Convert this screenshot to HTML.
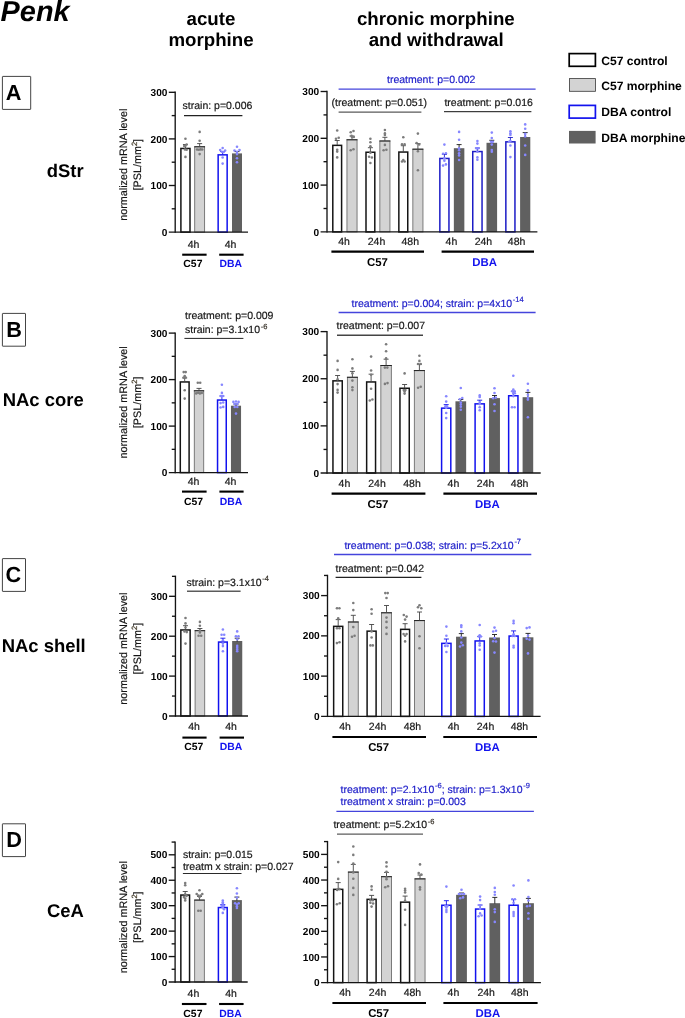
<!DOCTYPE html>
<html><head><meta charset="utf-8"><title>Penk</title>
<style>
html,body{margin:0;padding:0;background:#fff;}
body{width:685px;height:1018px;overflow:hidden;}
svg{display:block;font-family:"Liberation Sans",sans-serif;will-change:transform;}
text{text-rendering:geometricPrecision;}
.tk{font-size:10.1px;font-weight:bold;text-anchor:end;fill:#000;}
.xl{font-size:10.5px;text-anchor:middle;fill:#151515;stroke:#151515;stroke-width:0.18px;}
.t{font-size:10.5px;fill:#151515;stroke:#151515;stroke-width:0.18px;}
.yl{font-size:10.8px;fill:#151515;stroke:#151515;stroke-width:0.18px;}
.tb{font-size:10.5px;fill:#1a1ac8;stroke:#1a1ac8;stroke-width:0.18px;}
.h{font-size:18.7px;font-weight:bold;text-anchor:middle;fill:#000;}
.r{font-size:18.45px;font-weight:bold;fill:#000;}
.lg{font-size:12.1px;font-weight:bold;fill:#000;}
.pl{font-size:21.7px;font-weight:bold;fill:#000;}
</style></head><body>
<svg width="685" height="1018" viewBox="0 0 685 1018">
<rect x="180.9" y="148.45" width="9.1" height="83.65" fill="#fff" stroke="#141414" stroke-width="1.5"/>
<path d="M185.45 148.2V144.5M182.95 144.5H187.95" stroke="#444" stroke-width="0.9" fill="none"/>
<rect x="194.7" y="146.75" width="9.9" height="85.35" fill="#d3d3d3" stroke="#6e6e6e" stroke-width="0.9"/>
<path d="M194.25 146.8H205.05" stroke="#222" stroke-width="1"/>
<path d="M199.65 146.8V143.6M197.15 143.6H202.15" stroke="#444" stroke-width="0.9" fill="none"/>
<rect x="218.15" y="154.85" width="9" height="77.25" fill="#fff" stroke="#1212ee" stroke-width="1.5"/>
<path d="M222.65 154.6V151.5M220.15 151.5H225.15" stroke="#1212ee" stroke-width="0.9" fill="none"/>
<rect x="232" y="153.4" width="10" height="78.7" fill="#606060"/>
<path d="M237 153.9V151.6M234.5 151.6H239.5" stroke="#1a1a1a" stroke-width="0.9" fill="none"/>
<circle cx="185.45" cy="138.8" r="1.3" fill="#7c7c7c"/>
<circle cx="184.25" cy="146" r="1.3" fill="#7c7c7c"/>
<circle cx="186.65" cy="144.5" r="1.3" fill="#7c7c7c"/>
<circle cx="185.45" cy="145.8" r="1.3" fill="#7c7c7c"/>
<circle cx="184.95" cy="149.5" r="1.3" fill="#7c7c7c"/>
<circle cx="186.65" cy="149.8" r="1.3" fill="#7c7c7c"/>
<circle cx="185.45" cy="156.9" r="1.3" fill="#7c7c7c"/>
<circle cx="199.65" cy="131.9" r="1.3" fill="#7c7c7c"/>
<circle cx="199.65" cy="140.8" r="1.3" fill="#7c7c7c"/>
<circle cx="197.05" cy="149.5" r="1.3" fill="#7c7c7c"/>
<circle cx="198.75" cy="149.7" r="1.3" fill="#7c7c7c"/>
<circle cx="200.55" cy="149.4" r="1.3" fill="#7c7c7c"/>
<circle cx="202.25" cy="149.5" r="1.3" fill="#7c7c7c"/>
<circle cx="199.65" cy="154.1" r="1.3" fill="#7c7c7c"/>
<circle cx="222.65" cy="148" r="1.3" fill="#8787ff"/>
<circle cx="220.15" cy="150" r="1.3" fill="#8787ff"/>
<circle cx="225.15" cy="150.5" r="1.3" fill="#8787ff"/>
<circle cx="221.85" cy="151.8" r="1.3" fill="#8787ff"/>
<circle cx="223.65" cy="152" r="1.3" fill="#8787ff"/>
<circle cx="222.65" cy="157.5" r="1.3" fill="#8787ff"/>
<circle cx="222.65" cy="163.6" r="1.3" fill="#8787ff"/>
<circle cx="237" cy="146.8" r="1.3" fill="#8787ff"/>
<circle cx="234.5" cy="150.5" r="1.3" fill="#8787ff"/>
<circle cx="239.5" cy="150" r="1.3" fill="#8787ff"/>
<circle cx="237" cy="151.8" r="1.3" fill="#8787ff"/>
<circle cx="237" cy="154.1" r="1.3" fill="#8787ff"/>
<circle cx="237" cy="158.2" r="1.3" fill="#8787ff"/>
<circle cx="237" cy="162.3" r="1.3" fill="#8787ff"/>
<path d="M175.2 91.62V232.78" stroke="#141414" stroke-width="1.35" fill="none"/>
<path d="M168.8 232.1H248" stroke="#141414" stroke-width="1.35" fill="none"/>
<text x="167.4" y="235.7" class="tk">0</text>
<path d="M168.8 185.5H175.2" stroke="#141414" stroke-width="1.35"/>
<text x="167.4" y="189.1" class="tk">100</text>
<path d="M168.8 138.9H175.2" stroke="#141414" stroke-width="1.35"/>
<text x="167.4" y="142.5" class="tk">200</text>
<path d="M168.8 92.3H175.2" stroke="#141414" stroke-width="1.35"/>
<text x="167.4" y="95.9" class="tk">300</text>
<path d="M171.7 208.8H175.2" stroke="#141414" stroke-width="1.35"/>
<path d="M171.7 162.2H175.2" stroke="#141414" stroke-width="1.35"/>
<path d="M171.7 115.6H175.2" stroke="#141414" stroke-width="1.35"/>
<text x="193.5" y="247.5" class="xl">4h</text>
<text x="230.6" y="247.5" class="xl">4h</text>
<path d="M182.2 254.7H206.6" stroke="#000" stroke-width="2.1"/>
<text x="192.9" y="267.1" text-anchor="middle" font-weight="bold" font-size="10.4" fill="#000">C57</text>
<path d="M219.2 254.7H243.6" stroke="#000" stroke-width="2.1"/>
<text x="230.7" y="267.1" text-anchor="middle" font-weight="bold" font-size="10.4" fill="#1212ee">DBA</text>
<text transform="translate(126.8 164.7) rotate(-90)" text-anchor="middle" class="yl">normalized mRNA level</text>
<text transform="translate(141.3 164.7) rotate(-90)" text-anchor="middle" class="yl">[PSL/mm<tspan dy="-4.2" font-size="7.6" fill="#5a4a28">2</tspan><tspan dy="4.2">]</tspan></text>
<rect x="332.8" y="145.35" width="8.8" height="86.55" fill="#fff" stroke="#141414" stroke-width="1.5"/>
<path d="M337.2 145.1V140.5M334.7 140.5H339.7" stroke="#444" stroke-width="0.9" fill="none"/>
<rect x="346.95" y="139.75" width="10.1" height="92.15" fill="#d3d3d3" stroke="#6e6e6e" stroke-width="0.9"/>
<path d="M346.5 139.8H357.5" stroke="#222" stroke-width="1"/>
<path d="M352 139.8V136M349.5 136H354.5" stroke="#444" stroke-width="0.9" fill="none"/>
<rect x="366" y="152.25" width="8.8" height="79.65" fill="#fff" stroke="#141414" stroke-width="1.5"/>
<path d="M370.4 152V147.7M367.9 147.7H372.9" stroke="#444" stroke-width="0.9" fill="none"/>
<rect x="379.85" y="140.95" width="10.1" height="90.95" fill="#d3d3d3" stroke="#6e6e6e" stroke-width="0.9"/>
<path d="M379.4 141H390.4" stroke="#222" stroke-width="1"/>
<path d="M384.9 141V137.3M382.4 137.3H387.4" stroke="#444" stroke-width="0.9" fill="none"/>
<rect x="398.85" y="152.05" width="8.9" height="79.85" fill="#fff" stroke="#141414" stroke-width="1.5"/>
<path d="M403.3 151.8V145.7M400.8 145.7H405.8" stroke="#444" stroke-width="0.9" fill="none"/>
<rect x="412.85" y="149.15" width="10.1" height="82.75" fill="#d3d3d3" stroke="#6e6e6e" stroke-width="0.9"/>
<path d="M412.4 149.2H423.4" stroke="#222" stroke-width="1"/>
<path d="M417.9 149.2V143.5M415.4 143.5H420.4" stroke="#444" stroke-width="0.9" fill="none"/>
<rect x="439.85" y="158.45" width="9.1" height="73.45" fill="#fff" stroke="#1c1cc6" stroke-width="1.5"/>
<path d="M444.4 158.2V154.5M441.9 154.5H446.9" stroke="#1c1cc6" stroke-width="0.9" fill="none"/>
<rect x="453.85" y="148.2" width="10.5" height="83.7" fill="#606060"/>
<path d="M459.1 148.7V144.6M456.6 144.6H461.6" stroke="#1a1a1a" stroke-width="0.9" fill="none"/>
<rect x="472.75" y="151.55" width="9.3" height="80.35" fill="#fff" stroke="#1c1cc6" stroke-width="1.5"/>
<path d="M477.4 151.3V148M474.9 148H479.9" stroke="#1c1cc6" stroke-width="0.9" fill="none"/>
<rect x="486.5" y="142.8" width="10.6" height="89.1" fill="#606060"/>
<path d="M491.8 143.3V140.3M489.3 140.3H494.3" stroke="#1a1a1a" stroke-width="0.9" fill="none"/>
<rect x="505.85" y="141.85" width="9.1" height="90.05" fill="#fff" stroke="#1c1cc6" stroke-width="1.5"/>
<path d="M510.4 141.6V137.5M507.9 137.5H512.9" stroke="#1c1cc6" stroke-width="0.9" fill="none"/>
<rect x="520.1" y="137" width="10.2" height="94.9" fill="#606060"/>
<path d="M525.2 137.5V132.6M522.7 132.6H527.7" stroke="#1a1a1a" stroke-width="0.9" fill="none"/>
<circle cx="337.2" cy="130.5" r="1.3" fill="#7c7c7c"/>
<circle cx="336" cy="138.7" r="1.3" fill="#7c7c7c"/>
<circle cx="338.7" cy="137.7" r="1.3" fill="#7c7c7c"/>
<circle cx="337.2" cy="149.7" r="1.3" fill="#7c7c7c"/>
<circle cx="337.2" cy="151.6" r="1.3" fill="#7c7c7c"/>
<circle cx="337.2" cy="157.4" r="1.3" fill="#7c7c7c"/>
<circle cx="350.7" cy="132.2" r="1.3" fill="#7c7c7c"/>
<circle cx="353.5" cy="131" r="1.3" fill="#7c7c7c"/>
<circle cx="351.5" cy="135.9" r="1.3" fill="#7c7c7c"/>
<circle cx="352" cy="137" r="1.3" fill="#7c7c7c"/>
<circle cx="353.8" cy="137" r="1.3" fill="#7c7c7c"/>
<circle cx="350.7" cy="150.3" r="1.3" fill="#7c7c7c"/>
<circle cx="353.5" cy="149.2" r="1.3" fill="#7c7c7c"/>
<circle cx="370.4" cy="138.8" r="1.3" fill="#7c7c7c"/>
<circle cx="370.4" cy="142.3" r="1.3" fill="#7c7c7c"/>
<circle cx="370.4" cy="146.2" r="1.3" fill="#7c7c7c"/>
<circle cx="370.4" cy="152.8" r="1.3" fill="#7c7c7c"/>
<circle cx="369.1" cy="156.7" r="1.3" fill="#7c7c7c"/>
<circle cx="371.9" cy="157.5" r="1.3" fill="#7c7c7c"/>
<circle cx="370.4" cy="163" r="1.3" fill="#7c7c7c"/>
<circle cx="384.9" cy="130" r="1.3" fill="#7c7c7c"/>
<circle cx="384.9" cy="133.4" r="1.3" fill="#7c7c7c"/>
<circle cx="384.9" cy="134.9" r="1.3" fill="#7c7c7c"/>
<circle cx="384.9" cy="144.9" r="1.3" fill="#7c7c7c"/>
<circle cx="383.6" cy="150.3" r="1.3" fill="#7c7c7c"/>
<circle cx="386.4" cy="149.7" r="1.3" fill="#7c7c7c"/>
<circle cx="403.3" cy="137.3" r="1.3" fill="#7c7c7c"/>
<circle cx="402" cy="144.4" r="1.3" fill="#7c7c7c"/>
<circle cx="404.6" cy="144.4" r="1.3" fill="#7c7c7c"/>
<circle cx="402" cy="161.5" r="1.3" fill="#7c7c7c"/>
<circle cx="403.3" cy="160" r="1.3" fill="#7c7c7c"/>
<circle cx="404.6" cy="161.5" r="1.3" fill="#7c7c7c"/>
<circle cx="417.9" cy="133.6" r="1.3" fill="#7c7c7c"/>
<circle cx="416.6" cy="143.1" r="1.3" fill="#7c7c7c"/>
<circle cx="419.2" cy="144.4" r="1.3" fill="#7c7c7c"/>
<circle cx="417.9" cy="151.3" r="1.3" fill="#7c7c7c"/>
<circle cx="417.9" cy="170.2" r="1.3" fill="#7c7c7c"/>
<circle cx="444.4" cy="144.6" r="1.3" fill="#8787ff"/>
<circle cx="443.1" cy="153.8" r="1.3" fill="#8787ff"/>
<circle cx="445.9" cy="153.3" r="1.3" fill="#8787ff"/>
<circle cx="444.4" cy="158.4" r="1.3" fill="#8787ff"/>
<circle cx="444.4" cy="160.8" r="1.3" fill="#8787ff"/>
<circle cx="443.1" cy="165.6" r="1.3" fill="#8787ff"/>
<circle cx="445.9" cy="164.4" r="1.3" fill="#8787ff"/>
<circle cx="459.1" cy="131.9" r="1.3" fill="#8787ff"/>
<circle cx="459.1" cy="139.7" r="1.3" fill="#8787ff"/>
<circle cx="459.1" cy="148.2" r="1.3" fill="#8787ff"/>
<circle cx="459.1" cy="150.3" r="1.3" fill="#8787ff"/>
<circle cx="459.1" cy="153.3" r="1.3" fill="#8787ff"/>
<circle cx="459.1" cy="155.4" r="1.3" fill="#8787ff"/>
<circle cx="459.1" cy="160" r="1.3" fill="#8787ff"/>
<circle cx="477.4" cy="141.1" r="1.3" fill="#8787ff"/>
<circle cx="477.4" cy="143.6" r="1.3" fill="#8787ff"/>
<circle cx="476.4" cy="148.2" r="1.3" fill="#8787ff"/>
<circle cx="477.4" cy="148.2" r="1.3" fill="#8787ff"/>
<circle cx="478.4" cy="148.2" r="1.3" fill="#8787ff"/>
<circle cx="477.4" cy="151.8" r="1.3" fill="#8787ff"/>
<circle cx="477.4" cy="157.4" r="1.3" fill="#8787ff"/>
<circle cx="477.4" cy="159.7" r="1.3" fill="#8787ff"/>
<circle cx="491.8" cy="132.6" r="1.3" fill="#8787ff"/>
<circle cx="491.8" cy="138" r="1.3" fill="#8787ff"/>
<circle cx="491" cy="141.8" r="1.3" fill="#8787ff"/>
<circle cx="492.8" cy="141.8" r="1.3" fill="#8787ff"/>
<circle cx="491.8" cy="144.6" r="1.3" fill="#8787ff"/>
<circle cx="491.8" cy="150" r="1.3" fill="#8787ff"/>
<circle cx="491.8" cy="151.8" r="1.3" fill="#8787ff"/>
<circle cx="510.4" cy="131.3" r="1.3" fill="#8787ff"/>
<circle cx="510.4" cy="133.2" r="1.3" fill="#8787ff"/>
<circle cx="510.4" cy="134.9" r="1.3" fill="#8787ff"/>
<circle cx="510.4" cy="141.1" r="1.3" fill="#8787ff"/>
<circle cx="509.2" cy="141.8" r="1.3" fill="#8787ff"/>
<circle cx="510.4" cy="145.5" r="1.3" fill="#8787ff"/>
<circle cx="510.4" cy="157.1" r="1.3" fill="#8787ff"/>
<circle cx="525.2" cy="124.4" r="1.3" fill="#8787ff"/>
<circle cx="525.2" cy="128.8" r="1.3" fill="#8787ff"/>
<circle cx="525.2" cy="133.9" r="1.3" fill="#8787ff"/>
<circle cx="525.2" cy="136.5" r="1.3" fill="#8787ff"/>
<circle cx="525.2" cy="145.5" r="1.3" fill="#8787ff"/>
<circle cx="525.2" cy="154.9" r="1.3" fill="#8787ff"/>
<path d="M327 90.83V232.58" stroke="#141414" stroke-width="1.35" fill="none"/>
<path d="M320.6 231.9H537.4" stroke="#141414" stroke-width="1.35" fill="none"/>
<text x="319.2" y="235.5" class="tk">0</text>
<path d="M320.6 185.1H327" stroke="#141414" stroke-width="1.35"/>
<text x="319.2" y="188.7" class="tk">100</text>
<path d="M320.6 138.3H327" stroke="#141414" stroke-width="1.35"/>
<text x="319.2" y="141.9" class="tk">200</text>
<path d="M320.6 91.5H327" stroke="#141414" stroke-width="1.35"/>
<text x="319.2" y="95.1" class="tk">300</text>
<path d="M323.5 208.5H327" stroke="#141414" stroke-width="1.35"/>
<path d="M323.5 161.7H327" stroke="#141414" stroke-width="1.35"/>
<path d="M323.5 114.9H327" stroke="#141414" stroke-width="1.35"/>
<text x="344" y="245" class="xl">4h</text>
<text x="376.5" y="245" class="xl">24h</text>
<text x="410.3" y="245" class="xl">48h</text>
<text x="451.4" y="245" class="xl">4h</text>
<text x="483.4" y="245" class="xl">24h</text>
<text x="516.6" y="245" class="xl">48h</text>
<path d="M331.4 251.6H424" stroke="#000" stroke-width="2.1"/>
<text x="377.5" y="266" text-anchor="middle" font-weight="bold" font-size="11.4" fill="#000">C57</text>
<path d="M441.6 251.6H534" stroke="#000" stroke-width="2.1"/>
<text x="484.7" y="266" text-anchor="middle" font-weight="bold" font-size="11.4" fill="#1212ee">DBA</text>
<rect x="180.3" y="381.95" width="8.8" height="90.65" fill="#fff" stroke="#141414" stroke-width="1.5"/>
<path d="M184.7 381.7V377.9M182.2 377.9H187.2" stroke="#444" stroke-width="0.9" fill="none"/>
<rect x="194.3" y="390.75" width="9.4" height="81.85" fill="#d3d3d3" stroke="#6e6e6e" stroke-width="0.9"/>
<path d="M193.85 390.8H204.15" stroke="#222" stroke-width="1"/>
<path d="M199 390.8V388.4M196.5 388.4H201.5" stroke="#444" stroke-width="0.9" fill="none"/>
<rect x="217.55" y="400.05" width="8.7" height="72.55" fill="#fff" stroke="#1212ee" stroke-width="1.5"/>
<path d="M221.9 399.8V396M219.4 396H224.4" stroke="#1212ee" stroke-width="0.9" fill="none"/>
<rect x="230.95" y="405.7" width="10.1" height="66.9" fill="#606060"/>
<path d="M236 406.2V404M233.5 404H238.5" stroke="#1a1a1a" stroke-width="0.9" fill="none"/>
<circle cx="183.7" cy="372.1" r="1.3" fill="#7c7c7c"/>
<circle cx="185.7" cy="372.1" r="1.3" fill="#7c7c7c"/>
<circle cx="183.7" cy="377.6" r="1.3" fill="#7c7c7c"/>
<circle cx="184.7" cy="376.1" r="1.3" fill="#7c7c7c"/>
<circle cx="185.7" cy="377.6" r="1.3" fill="#7c7c7c"/>
<circle cx="184.7" cy="390.3" r="1.3" fill="#7c7c7c"/>
<circle cx="184.7" cy="398.6" r="1.3" fill="#7c7c7c"/>
<circle cx="197.8" cy="382.7" r="1.3" fill="#7c7c7c"/>
<circle cx="200.2" cy="382.7" r="1.3" fill="#7c7c7c"/>
<circle cx="196.2" cy="393.4" r="1.3" fill="#7c7c7c"/>
<circle cx="198.1" cy="392.8" r="1.3" fill="#7c7c7c"/>
<circle cx="199.9" cy="393.4" r="1.3" fill="#7c7c7c"/>
<circle cx="201.8" cy="393" r="1.3" fill="#7c7c7c"/>
<circle cx="221.9" cy="384.7" r="1.3" fill="#8787ff"/>
<circle cx="221.9" cy="392.9" r="1.3" fill="#8787ff"/>
<circle cx="220.9" cy="396" r="1.3" fill="#8787ff"/>
<circle cx="222.9" cy="396" r="1.3" fill="#8787ff"/>
<circle cx="220.6" cy="403.1" r="1.3" fill="#8787ff"/>
<circle cx="223.2" cy="402.5" r="1.3" fill="#8787ff"/>
<circle cx="220.6" cy="407.5" r="1.3" fill="#8787ff"/>
<circle cx="223.2" cy="406.9" r="1.3" fill="#8787ff"/>
<circle cx="233.4" cy="401.9" r="1.3" fill="#8787ff"/>
<circle cx="236" cy="401.5" r="1.3" fill="#8787ff"/>
<circle cx="238.6" cy="401.9" r="1.3" fill="#8787ff"/>
<circle cx="234.7" cy="404.1" r="1.3" fill="#8787ff"/>
<circle cx="237.3" cy="404.1" r="1.3" fill="#8787ff"/>
<circle cx="234.7" cy="407" r="1.3" fill="#8787ff"/>
<circle cx="237.3" cy="407" r="1.3" fill="#8787ff"/>
<circle cx="236" cy="413.6" r="1.3" fill="#8787ff"/>
<path d="M175.2 332.43V473.28" stroke="#141414" stroke-width="1.35" fill="none"/>
<path d="M168.8 472.6H248" stroke="#141414" stroke-width="1.35" fill="none"/>
<text x="167.4" y="476.2" class="tk">0</text>
<path d="M168.8 426.1H175.2" stroke="#141414" stroke-width="1.35"/>
<text x="167.4" y="429.7" class="tk">100</text>
<path d="M168.8 379.6H175.2" stroke="#141414" stroke-width="1.35"/>
<text x="167.4" y="383.2" class="tk">200</text>
<path d="M168.8 333.1H175.2" stroke="#141414" stroke-width="1.35"/>
<text x="167.4" y="336.7" class="tk">300</text>
<path d="M171.7 449.35H175.2" stroke="#141414" stroke-width="1.35"/>
<path d="M171.7 402.85H175.2" stroke="#141414" stroke-width="1.35"/>
<path d="M171.7 356.35H175.2" stroke="#141414" stroke-width="1.35"/>
<text x="193.6" y="484.8" class="xl">4h</text>
<text x="230.6" y="484.8" class="xl">4h</text>
<path d="M182 491.6H206.6" stroke="#000" stroke-width="2.1"/>
<text x="193.6" y="505" text-anchor="middle" font-weight="bold" font-size="10.4" fill="#000">C57</text>
<path d="M219.4 491.6H243.6" stroke="#000" stroke-width="2.1"/>
<text x="231" y="505" text-anchor="middle" font-weight="bold" font-size="10.4" fill="#1212ee">DBA</text>
<text transform="translate(126.8 402.4) rotate(-90)" text-anchor="middle" class="yl">normalized mRNA level</text>
<text transform="translate(141.3 402.4) rotate(-90)" text-anchor="middle" class="yl">[PSL/mm<tspan dy="-4.2" font-size="7.6" fill="#5a4a28">2</tspan><tspan dy="4.2">]</tspan></text>
<rect x="332.95" y="380.85" width="9.3" height="92.15" fill="#fff" stroke="#141414" stroke-width="1.5"/>
<path d="M337.6 380.6V375.5M335.1 375.5H340.1" stroke="#444" stroke-width="0.9" fill="none"/>
<rect x="347.4" y="377.25" width="10" height="95.75" fill="#d3d3d3" stroke="#6e6e6e" stroke-width="0.9"/>
<path d="M346.95 377.3H357.85" stroke="#222" stroke-width="1"/>
<path d="M352.4 377.3V371.4M349.9 371.4H354.9" stroke="#444" stroke-width="0.9" fill="none"/>
<rect x="366.65" y="381.95" width="8.9" height="91.05" fill="#fff" stroke="#141414" stroke-width="1.5"/>
<path d="M371.1 381.7V374.2M368.6 374.2H373.6" stroke="#444" stroke-width="0.9" fill="none"/>
<rect x="380.85" y="365.45" width="10.5" height="107.55" fill="#d3d3d3" stroke="#6e6e6e" stroke-width="0.9"/>
<path d="M380.4 365.5H391.8" stroke="#222" stroke-width="1"/>
<path d="M386.1 365.5V359.2M383.6 359.2H388.6" stroke="#444" stroke-width="0.9" fill="none"/>
<rect x="399.95" y="388.25" width="9.3" height="84.75" fill="#fff" stroke="#141414" stroke-width="1.5"/>
<path d="M404.6 388V384.5M402.1 384.5H407.1" stroke="#444" stroke-width="0.9" fill="none"/>
<rect x="414.35" y="370.55" width="10.1" height="102.45" fill="#d3d3d3" stroke="#6e6e6e" stroke-width="0.9"/>
<path d="M413.9 370.6H424.9" stroke="#222" stroke-width="1"/>
<path d="M419.4 370.6V364.2M416.9 364.2H421.9" stroke="#444" stroke-width="0.9" fill="none"/>
<rect x="441.6" y="408.15" width="9.2" height="64.85" fill="#fff" stroke="#1212ee" stroke-width="1.5"/>
<path d="M446.2 407.9V404.6M443.7 404.6H448.7" stroke="#1212ee" stroke-width="0.9" fill="none"/>
<rect x="455.45" y="401.3" width="10.7" height="71.7" fill="#606060"/>
<path d="M460.8 401.8V399.5M458.3 399.5H463.3" stroke="#1a1a1a" stroke-width="0.9" fill="none"/>
<rect x="475.1" y="403.85" width="9.2" height="69.15" fill="#fff" stroke="#1212ee" stroke-width="1.5"/>
<path d="M479.7 403.6V400.2M477.2 400.2H482.2" stroke="#1212ee" stroke-width="0.9" fill="none"/>
<rect x="489.05" y="398.1" width="10.9" height="74.9" fill="#606060"/>
<path d="M494.5 398.6V395.5M492 395.5H497" stroke="#1a1a1a" stroke-width="0.9" fill="none"/>
<rect x="508.65" y="395.75" width="9.3" height="77.25" fill="#fff" stroke="#1212ee" stroke-width="1.5"/>
<path d="M513.3 395.5V391.3M510.8 391.3H515.8" stroke="#1212ee" stroke-width="0.9" fill="none"/>
<rect x="522.6" y="397.2" width="10.6" height="75.8" fill="#606060"/>
<path d="M527.9 397.7V392.4M525.4 392.4H530.4" stroke="#1a1a1a" stroke-width="0.9" fill="none"/>
<circle cx="337.6" cy="360.9" r="1.3" fill="#7c7c7c"/>
<circle cx="337.6" cy="369.9" r="1.3" fill="#7c7c7c"/>
<circle cx="337.6" cy="379.3" r="1.3" fill="#7c7c7c"/>
<circle cx="337.6" cy="384.1" r="1.3" fill="#7c7c7c"/>
<circle cx="337.6" cy="389.9" r="1.3" fill="#7c7c7c"/>
<circle cx="337.6" cy="392.6" r="1.3" fill="#7c7c7c"/>
<circle cx="352.4" cy="359.2" r="1.3" fill="#7c7c7c"/>
<circle cx="352.4" cy="368.4" r="1.3" fill="#7c7c7c"/>
<circle cx="352.4" cy="373.2" r="1.3" fill="#7c7c7c"/>
<circle cx="352.4" cy="380.6" r="1.3" fill="#7c7c7c"/>
<circle cx="352.4" cy="387.2" r="1.3" fill="#7c7c7c"/>
<circle cx="352.4" cy="390.1" r="1.3" fill="#7c7c7c"/>
<circle cx="371.1" cy="356.6" r="1.3" fill="#7c7c7c"/>
<circle cx="371.1" cy="370.5" r="1.3" fill="#7c7c7c"/>
<circle cx="371.1" cy="374.7" r="1.3" fill="#7c7c7c"/>
<circle cx="371.1" cy="388.7" r="1.3" fill="#7c7c7c"/>
<circle cx="369.8" cy="400.5" r="1.3" fill="#7c7c7c"/>
<circle cx="372.4" cy="399.5" r="1.3" fill="#7c7c7c"/>
<circle cx="386.1" cy="344.3" r="1.3" fill="#7c7c7c"/>
<circle cx="386.1" cy="351.2" r="1.3" fill="#7c7c7c"/>
<circle cx="386.1" cy="358.4" r="1.3" fill="#7c7c7c"/>
<circle cx="384.9" cy="367.6" r="1.3" fill="#7c7c7c"/>
<circle cx="387.3" cy="367.6" r="1.3" fill="#7c7c7c"/>
<circle cx="384.9" cy="383.9" r="1.3" fill="#7c7c7c"/>
<circle cx="387.5" cy="383.1" r="1.3" fill="#7c7c7c"/>
<circle cx="404.6" cy="373.4" r="1.3" fill="#7c7c7c"/>
<circle cx="403.8" cy="390.1" r="1.3" fill="#7c7c7c"/>
<circle cx="405.4" cy="390.1" r="1.3" fill="#7c7c7c"/>
<circle cx="404.6" cy="391.6" r="1.3" fill="#7c7c7c"/>
<circle cx="404.6" cy="393.6" r="1.3" fill="#7c7c7c"/>
<circle cx="419.4" cy="355.8" r="1.3" fill="#7c7c7c"/>
<circle cx="419.4" cy="360.9" r="1.3" fill="#7c7c7c"/>
<circle cx="418.1" cy="364" r="1.3" fill="#7c7c7c"/>
<circle cx="420.7" cy="364" r="1.3" fill="#7c7c7c"/>
<circle cx="418.1" cy="387.8" r="1.3" fill="#7c7c7c"/>
<circle cx="420.7" cy="386.8" r="1.3" fill="#7c7c7c"/>
<circle cx="446.2" cy="396.3" r="1.3" fill="#8787ff"/>
<circle cx="446.2" cy="401.6" r="1.3" fill="#8787ff"/>
<circle cx="445.4" cy="406.2" r="1.3" fill="#8787ff"/>
<circle cx="447" cy="406.2" r="1.3" fill="#8787ff"/>
<circle cx="446.2" cy="407.7" r="1.3" fill="#8787ff"/>
<circle cx="446.2" cy="413" r="1.3" fill="#8787ff"/>
<circle cx="446.2" cy="418.1" r="1.3" fill="#8787ff"/>
<circle cx="460.8" cy="388" r="1.3" fill="#8787ff"/>
<circle cx="459.8" cy="399.3" r="1.3" fill="#8787ff"/>
<circle cx="462.3" cy="398" r="1.3" fill="#8787ff"/>
<circle cx="460.8" cy="402.6" r="1.3" fill="#8787ff"/>
<circle cx="460.8" cy="404.6" r="1.3" fill="#8787ff"/>
<circle cx="460.8" cy="406.7" r="1.3" fill="#8787ff"/>
<circle cx="460.8" cy="409.7" r="1.3" fill="#8787ff"/>
<circle cx="479.7" cy="395.4" r="1.3" fill="#8787ff"/>
<circle cx="479.7" cy="397" r="1.3" fill="#8787ff"/>
<circle cx="479.7" cy="402.1" r="1.3" fill="#8787ff"/>
<circle cx="479.7" cy="404.1" r="1.3" fill="#8787ff"/>
<circle cx="479.7" cy="407.2" r="1.3" fill="#8787ff"/>
<circle cx="479.7" cy="410.3" r="1.3" fill="#8787ff"/>
<circle cx="494.5" cy="388.2" r="1.3" fill="#8787ff"/>
<circle cx="494.5" cy="393" r="1.3" fill="#8787ff"/>
<circle cx="493.2" cy="398.3" r="1.3" fill="#8787ff"/>
<circle cx="495.8" cy="397.6" r="1.3" fill="#8787ff"/>
<circle cx="494.5" cy="404.2" r="1.3" fill="#8787ff"/>
<circle cx="494.5" cy="411" r="1.3" fill="#8787ff"/>
<circle cx="513.3" cy="375.7" r="1.3" fill="#8787ff"/>
<circle cx="513.3" cy="389.5" r="1.3" fill="#8787ff"/>
<circle cx="512.3" cy="391.3" r="1.3" fill="#8787ff"/>
<circle cx="514.5" cy="391.3" r="1.3" fill="#8787ff"/>
<circle cx="513.3" cy="393.2" r="1.3" fill="#8787ff"/>
<circle cx="514.8" cy="393.2" r="1.3" fill="#8787ff"/>
<circle cx="513.3" cy="396.1" r="1.3" fill="#8787ff"/>
<circle cx="512" cy="407.3" r="1.3" fill="#8787ff"/>
<circle cx="514.6" cy="407.3" r="1.3" fill="#8787ff"/>
<circle cx="527.9" cy="383.7" r="1.3" fill="#8787ff"/>
<circle cx="527.9" cy="390.4" r="1.3" fill="#8787ff"/>
<circle cx="527.9" cy="394.8" r="1.3" fill="#8787ff"/>
<circle cx="527.9" cy="397.8" r="1.3" fill="#8787ff"/>
<circle cx="527.9" cy="399.6" r="1.3" fill="#8787ff"/>
<circle cx="527.9" cy="417.3" r="1.3" fill="#8787ff"/>
<path d="M327 330.94V473.68" stroke="#141414" stroke-width="1.35" fill="none"/>
<path d="M320.6 473H540.7" stroke="#141414" stroke-width="1.35" fill="none"/>
<text x="319.2" y="476.6" class="tk">0</text>
<path d="M320.6 425.87H327" stroke="#141414" stroke-width="1.35"/>
<text x="319.2" y="429.47" class="tk">100</text>
<path d="M320.6 378.74H327" stroke="#141414" stroke-width="1.35"/>
<text x="319.2" y="382.34" class="tk">200</text>
<path d="M320.6 331.61H327" stroke="#141414" stroke-width="1.35"/>
<text x="319.2" y="335.21" class="tk">300</text>
<path d="M323.5 449.44H327" stroke="#141414" stroke-width="1.35"/>
<path d="M323.5 402.31H327" stroke="#141414" stroke-width="1.35"/>
<path d="M323.5 355.18H327" stroke="#141414" stroke-width="1.35"/>
<text x="344.4" y="486.6" class="xl">4h</text>
<text x="377" y="486.6" class="xl">24h</text>
<text x="412" y="486.6" class="xl">48h</text>
<text x="453.4" y="486.6" class="xl">4h</text>
<text x="485.6" y="486.6" class="xl">24h</text>
<text x="519.6" y="486.6" class="xl">48h</text>
<path d="M331.6 493.6H425.4" stroke="#000" stroke-width="2.1"/>
<text x="378" y="508" text-anchor="middle" font-weight="bold" font-size="11.4" fill="#000">C57</text>
<path d="M443.4 493.6H537" stroke="#000" stroke-width="2.1"/>
<text x="487.4" y="508" text-anchor="middle" font-weight="bold" font-size="11.4" fill="#1212ee">DBA</text>
<rect x="180.85" y="629.95" width="9.3" height="86.05" fill="#fff" stroke="#141414" stroke-width="1.5"/>
<path d="M185.5 629.7V625.7M183 625.7H188" stroke="#444" stroke-width="0.9" fill="none"/>
<rect x="195.1" y="630.65" width="9.6" height="85.35" fill="#d3d3d3" stroke="#6e6e6e" stroke-width="0.9"/>
<path d="M194.65 630.7H205.15" stroke="#222" stroke-width="1"/>
<path d="M199.9 630.7V628.5M197.4 628.5H202.4" stroke="#444" stroke-width="0.9" fill="none"/>
<rect x="218.55" y="642.05" width="8.7" height="73.95" fill="#fff" stroke="#1212ee" stroke-width="1.5"/>
<path d="M222.9 641.8V638.2M220.4 638.2H225.4" stroke="#1212ee" stroke-width="0.9" fill="none"/>
<rect x="232.15" y="641" width="10.1" height="75" fill="#606060"/>
<path d="M237.2 641.5V638.2M234.7 638.2H239.7" stroke="#1a1a1a" stroke-width="0.9" fill="none"/>
<circle cx="185.5" cy="618" r="1.3" fill="#7c7c7c"/>
<circle cx="185.5" cy="623.4" r="1.3" fill="#7c7c7c"/>
<circle cx="185.5" cy="627.5" r="1.3" fill="#7c7c7c"/>
<circle cx="184.5" cy="631.4" r="1.3" fill="#7c7c7c"/>
<circle cx="186.8" cy="632.1" r="1.3" fill="#7c7c7c"/>
<circle cx="185.5" cy="643.6" r="1.3" fill="#7c7c7c"/>
<circle cx="199.9" cy="621.9" r="1.3" fill="#7c7c7c"/>
<circle cx="199.9" cy="625.7" r="1.3" fill="#7c7c7c"/>
<circle cx="199.9" cy="630.5" r="1.3" fill="#7c7c7c"/>
<circle cx="199.9" cy="632.4" r="1.3" fill="#7c7c7c"/>
<circle cx="198.6" cy="635.7" r="1.3" fill="#7c7c7c"/>
<circle cx="201.2" cy="635.7" r="1.3" fill="#7c7c7c"/>
<circle cx="222.9" cy="629.5" r="1.3" fill="#8787ff"/>
<circle cx="221.6" cy="634.8" r="1.3" fill="#8787ff"/>
<circle cx="224.2" cy="634.8" r="1.3" fill="#8787ff"/>
<circle cx="222.9" cy="640.3" r="1.3" fill="#8787ff"/>
<circle cx="222.9" cy="643.6" r="1.3" fill="#8787ff"/>
<circle cx="222.9" cy="646.1" r="1.3" fill="#8787ff"/>
<circle cx="222.9" cy="651.3" r="1.3" fill="#8787ff"/>
<circle cx="237.2" cy="631.4" r="1.3" fill="#8787ff"/>
<circle cx="235.9" cy="636.2" r="1.3" fill="#8787ff"/>
<circle cx="238.5" cy="636.2" r="1.3" fill="#8787ff"/>
<circle cx="237.2" cy="639.2" r="1.3" fill="#8787ff"/>
<circle cx="237.2" cy="645.9" r="1.3" fill="#8787ff"/>
<circle cx="237.2" cy="647.7" r="1.3" fill="#8787ff"/>
<circle cx="237.2" cy="649.5" r="1.3" fill="#8787ff"/>
<circle cx="237.2" cy="651.2" r="1.3" fill="#8787ff"/>
<path d="M175.45 575.68V716.67" stroke="#141414" stroke-width="1.35" fill="none"/>
<path d="M169.05 716H248" stroke="#141414" stroke-width="1.35" fill="none"/>
<text x="167.65" y="719.6" class="tk">0</text>
<path d="M169.05 676.1H175.45" stroke="#141414" stroke-width="1.35"/>
<text x="167.65" y="679.7" class="tk">100</text>
<path d="M169.05 636.2H175.45" stroke="#141414" stroke-width="1.35"/>
<text x="167.65" y="639.8" class="tk">200</text>
<path d="M169.05 596.3H175.45" stroke="#141414" stroke-width="1.35"/>
<text x="167.65" y="599.9" class="tk">300</text>
<path d="M171.95 696.05H175.45" stroke="#141414" stroke-width="1.35"/>
<path d="M171.95 656.15H175.45" stroke="#141414" stroke-width="1.35"/>
<path d="M171.95 616.25H175.45" stroke="#141414" stroke-width="1.35"/>
<path d="M171.95 576.35H175.45" stroke="#141414" stroke-width="1.35"/>
<text x="194" y="730.4" class="xl">4h</text>
<text x="231" y="730.4" class="xl">4h</text>
<path d="M182.4 737.6H206.6" stroke="#000" stroke-width="2.1"/>
<text x="193.7" y="750" text-anchor="middle" font-weight="bold" font-size="10.4" fill="#000">C57</text>
<path d="M219.6 737.6H244" stroke="#000" stroke-width="2.1"/>
<text x="231" y="750" text-anchor="middle" font-weight="bold" font-size="10.4" fill="#1212ee">DBA</text>
<text transform="translate(126.8 648.6) rotate(-90)" text-anchor="middle" class="yl">normalized mRNA level</text>
<text transform="translate(141.3 648.6) rotate(-90)" text-anchor="middle" class="yl">[PSL/mm<tspan dy="-4.2" font-size="7.6" fill="#5a4a28">2</tspan><tspan dy="4.2">]</tspan></text>
<rect x="333.65" y="626.35" width="9.1" height="90.05" fill="#fff" stroke="#141414" stroke-width="1.5"/>
<path d="M338.2 626.1V619.6M335.7 619.6H340.7" stroke="#444" stroke-width="0.9" fill="none"/>
<rect x="348.35" y="621.95" width="9.9" height="94.45" fill="#d3d3d3" stroke="#6e6e6e" stroke-width="0.9"/>
<path d="M347.9 622H358.7" stroke="#222" stroke-width="1"/>
<path d="M353.3 622V615.3M350.8 615.3H355.8" stroke="#444" stroke-width="0.9" fill="none"/>
<rect x="367.1" y="631.15" width="9" height="85.25" fill="#fff" stroke="#141414" stroke-width="1.5"/>
<path d="M371.6 630.9V624.5M369.1 624.5H374.1" stroke="#444" stroke-width="0.9" fill="none"/>
<rect x="381.55" y="612.75" width="9.9" height="103.65" fill="#d3d3d3" stroke="#6e6e6e" stroke-width="0.9"/>
<path d="M381.1 612.8H391.9" stroke="#222" stroke-width="1"/>
<path d="M386.5 612.8V605.5M384 605.5H389" stroke="#444" stroke-width="0.9" fill="none"/>
<rect x="400.65" y="629.35" width="8.9" height="87.05" fill="#fff" stroke="#141414" stroke-width="1.5"/>
<path d="M405.1 629.1V623.7M402.6 623.7H407.6" stroke="#444" stroke-width="0.9" fill="none"/>
<rect x="414.55" y="620.55" width="9.9" height="95.85" fill="#d3d3d3" stroke="#6e6e6e" stroke-width="0.9"/>
<path d="M414.1 620.6H424.9" stroke="#222" stroke-width="1"/>
<path d="M419.5 620.6V612M417 612H422" stroke="#444" stroke-width="0.9" fill="none"/>
<rect x="441.8" y="643.35" width="9.2" height="73.05" fill="#fff" stroke="#1212ee" stroke-width="1.5"/>
<path d="M446.4 643.1V639M443.9 639H448.9" stroke="#1212ee" stroke-width="0.9" fill="none"/>
<rect x="456.05" y="636.7" width="10.5" height="79.7" fill="#606060"/>
<path d="M461.3 637.2V633.6M458.8 633.6H463.8" stroke="#1a1a1a" stroke-width="0.9" fill="none"/>
<rect x="475.1" y="640.95" width="9.2" height="75.45" fill="#fff" stroke="#1212ee" stroke-width="1.5"/>
<path d="M479.7 640.7V636.5M477.2 636.5H482.2" stroke="#1212ee" stroke-width="0.9" fill="none"/>
<rect x="489.1" y="637.5" width="10.8" height="78.9" fill="#606060"/>
<path d="M494.5 638V634.5M492 634.5H497" stroke="#1a1a1a" stroke-width="0.9" fill="none"/>
<rect x="509.1" y="636.05" width="9" height="80.35" fill="#fff" stroke="#1212ee" stroke-width="1.5"/>
<path d="M513.6 635.8V630.9M511.1 630.9H516.1" stroke="#1212ee" stroke-width="0.9" fill="none"/>
<rect x="522.6" y="637.3" width="10.8" height="79.1" fill="#606060"/>
<path d="M528 637.8V633.4M525.5 633.4H530.5" stroke="#1a1a1a" stroke-width="0.9" fill="none"/>
<circle cx="337" cy="608.2" r="1.3" fill="#7c7c7c"/>
<circle cx="339.4" cy="608.2" r="1.3" fill="#7c7c7c"/>
<circle cx="338.2" cy="618.4" r="1.3" fill="#7c7c7c"/>
<circle cx="337" cy="628.3" r="1.3" fill="#7c7c7c"/>
<circle cx="339.4" cy="628.3" r="1.3" fill="#7c7c7c"/>
<circle cx="336.9" cy="643.1" r="1.3" fill="#7c7c7c"/>
<circle cx="339.5" cy="642.3" r="1.3" fill="#7c7c7c"/>
<circle cx="353.3" cy="603" r="1.3" fill="#7c7c7c"/>
<circle cx="353.3" cy="610.1" r="1.3" fill="#7c7c7c"/>
<circle cx="353.3" cy="627.1" r="1.3" fill="#7c7c7c"/>
<circle cx="352" cy="636.8" r="1.3" fill="#7c7c7c"/>
<circle cx="354.6" cy="635.8" r="1.3" fill="#7c7c7c"/>
<circle cx="371.6" cy="609.2" r="1.3" fill="#7c7c7c"/>
<circle cx="371.6" cy="613.8" r="1.3" fill="#7c7c7c"/>
<circle cx="371.6" cy="631.4" r="1.3" fill="#7c7c7c"/>
<circle cx="371.6" cy="637.5" r="1.3" fill="#7c7c7c"/>
<circle cx="370.4" cy="645.4" r="1.3" fill="#7c7c7c"/>
<circle cx="372.8" cy="645.4" r="1.3" fill="#7c7c7c"/>
<circle cx="385.3" cy="593.1" r="1.3" fill="#7c7c7c"/>
<circle cx="387.7" cy="593.1" r="1.3" fill="#7c7c7c"/>
<circle cx="386.5" cy="598" r="1.3" fill="#7c7c7c"/>
<circle cx="386.5" cy="617.6" r="1.3" fill="#7c7c7c"/>
<circle cx="386.5" cy="621.9" r="1.3" fill="#7c7c7c"/>
<circle cx="386.5" cy="627.6" r="1.3" fill="#7c7c7c"/>
<circle cx="386.5" cy="633.9" r="1.3" fill="#7c7c7c"/>
<circle cx="403.8" cy="615" r="1.3" fill="#7c7c7c"/>
<circle cx="406.6" cy="616.6" r="1.3" fill="#7c7c7c"/>
<circle cx="405.1" cy="619.6" r="1.3" fill="#7c7c7c"/>
<circle cx="403.6" cy="634.1" r="1.3" fill="#7c7c7c"/>
<circle cx="406.6" cy="634.1" r="1.3" fill="#7c7c7c"/>
<circle cx="405.1" cy="635.8" r="1.3" fill="#7c7c7c"/>
<circle cx="405.1" cy="641.4" r="1.3" fill="#7c7c7c"/>
<circle cx="419.5" cy="605.3" r="1.3" fill="#7c7c7c"/>
<circle cx="418" cy="607.2" r="1.3" fill="#7c7c7c"/>
<circle cx="421.3" cy="608.2" r="1.3" fill="#7c7c7c"/>
<circle cx="419.5" cy="636.2" r="1.3" fill="#7c7c7c"/>
<circle cx="419.5" cy="648.2" r="1.3" fill="#7c7c7c"/>
<circle cx="446.4" cy="626.6" r="1.3" fill="#8787ff"/>
<circle cx="446.4" cy="635.7" r="1.3" fill="#8787ff"/>
<circle cx="446.4" cy="643.1" r="1.3" fill="#8787ff"/>
<circle cx="445.2" cy="645.9" r="1.3" fill="#8787ff"/>
<circle cx="447.6" cy="645.9" r="1.3" fill="#8787ff"/>
<circle cx="446.4" cy="652" r="1.3" fill="#8787ff"/>
<circle cx="461.3" cy="625.3" r="1.3" fill="#8787ff"/>
<circle cx="461.3" cy="627" r="1.3" fill="#8787ff"/>
<circle cx="461.3" cy="631.4" r="1.3" fill="#8787ff"/>
<circle cx="461.3" cy="637.5" r="1.3" fill="#8787ff"/>
<circle cx="461.3" cy="642.6" r="1.3" fill="#8787ff"/>
<circle cx="460" cy="646.5" r="1.3" fill="#8787ff"/>
<circle cx="462.8" cy="645.2" r="1.3" fill="#8787ff"/>
<circle cx="479.7" cy="625" r="1.3" fill="#8787ff"/>
<circle cx="479.7" cy="635.3" r="1.3" fill="#8787ff"/>
<circle cx="478.7" cy="636.5" r="1.3" fill="#8787ff"/>
<circle cx="480.9" cy="636.5" r="1.3" fill="#8787ff"/>
<circle cx="479.7" cy="643.4" r="1.3" fill="#8787ff"/>
<circle cx="479.7" cy="645.5" r="1.3" fill="#8787ff"/>
<circle cx="479.7" cy="649.8" r="1.3" fill="#8787ff"/>
<circle cx="494.5" cy="627.6" r="1.3" fill="#8787ff"/>
<circle cx="493.2" cy="631.5" r="1.3" fill="#8787ff"/>
<circle cx="496" cy="630.7" r="1.3" fill="#8787ff"/>
<circle cx="494.5" cy="638" r="1.3" fill="#8787ff"/>
<circle cx="493.2" cy="641.2" r="1.3" fill="#8787ff"/>
<circle cx="496" cy="641.5" r="1.3" fill="#8787ff"/>
<circle cx="494.5" cy="652.6" r="1.3" fill="#8787ff"/>
<circle cx="513.6" cy="620.9" r="1.3" fill="#8787ff"/>
<circle cx="513.6" cy="623.3" r="1.3" fill="#8787ff"/>
<circle cx="513.6" cy="634.2" r="1.3" fill="#8787ff"/>
<circle cx="512.4" cy="636" r="1.3" fill="#8787ff"/>
<circle cx="514.8" cy="636" r="1.3" fill="#8787ff"/>
<circle cx="513.6" cy="645.7" r="1.3" fill="#8787ff"/>
<circle cx="513.6" cy="647.5" r="1.3" fill="#8787ff"/>
<circle cx="526.7" cy="628.1" r="1.3" fill="#8787ff"/>
<circle cx="529.5" cy="627.4" r="1.3" fill="#8787ff"/>
<circle cx="528" cy="635.8" r="1.3" fill="#8787ff"/>
<circle cx="526.7" cy="638.8" r="1.3" fill="#8787ff"/>
<circle cx="529.5" cy="639.6" r="1.3" fill="#8787ff"/>
<circle cx="528" cy="653.4" r="1.3" fill="#8787ff"/>
<path d="M327.5 574.78V717.07" stroke="#141414" stroke-width="1.35" fill="none"/>
<path d="M321.1 716.4H540.6" stroke="#141414" stroke-width="1.35" fill="none"/>
<text x="319.7" y="720" class="tk">0</text>
<path d="M321.1 676.13H327.5" stroke="#141414" stroke-width="1.35"/>
<text x="319.7" y="679.73" class="tk">100</text>
<path d="M321.1 635.86H327.5" stroke="#141414" stroke-width="1.35"/>
<text x="319.7" y="639.46" class="tk">200</text>
<path d="M321.1 595.59H327.5" stroke="#141414" stroke-width="1.35"/>
<text x="319.7" y="599.19" class="tk">300</text>
<path d="M324 696.26H327.5" stroke="#141414" stroke-width="1.35"/>
<path d="M324 656H327.5" stroke="#141414" stroke-width="1.35"/>
<path d="M324 615.73H327.5" stroke="#141414" stroke-width="1.35"/>
<path d="M324 575.45H327.5" stroke="#141414" stroke-width="1.35"/>
<text x="345" y="730" class="xl">4h</text>
<text x="377.6" y="730" class="xl">24h</text>
<text x="412.4" y="730" class="xl">48h</text>
<text x="453.5" y="730" class="xl">4h</text>
<text x="485.5" y="730" class="xl">24h</text>
<text x="519.4" y="730" class="xl">48h</text>
<path d="M332.4 737H426" stroke="#000" stroke-width="2.1"/>
<text x="378.6" y="751" text-anchor="middle" font-weight="bold" font-size="11.4" fill="#000">C57</text>
<path d="M443.3 737H537" stroke="#000" stroke-width="2.1"/>
<text x="487.4" y="751" text-anchor="middle" font-weight="bold" font-size="11.4" fill="#1212ee">DBA</text>
<rect x="180.85" y="895.05" width="8.7" height="86.95" fill="#fff" stroke="#141414" stroke-width="1.5"/>
<path d="M185.2 894.8V891.5M182.7 891.5H187.7" stroke="#444" stroke-width="0.9" fill="none"/>
<rect x="194.65" y="900.05" width="9.7" height="81.95" fill="#d3d3d3" stroke="#6e6e6e" stroke-width="0.9"/>
<path d="M194.2 900.1H204.8" stroke="#222" stroke-width="1"/>
<path d="M199.5 900.1V896.5M197 896.5H202" stroke="#444" stroke-width="0.9" fill="none"/>
<rect x="218.4" y="907.55" width="8.8" height="74.45" fill="#fff" stroke="#1212ee" stroke-width="1.5"/>
<path d="M222.8 907.3V904.5M220.3 904.5H225.3" stroke="#1212ee" stroke-width="0.9" fill="none"/>
<rect x="231.9" y="900.1" width="10" height="81.9" fill="#606060"/>
<path d="M236.9 900.6V897.1M234.4 897.1H239.4" stroke="#1a1a1a" stroke-width="0.9" fill="none"/>
<circle cx="185.2" cy="883.1" r="1.3" fill="#7c7c7c"/>
<circle cx="185.2" cy="885.3" r="1.3" fill="#7c7c7c"/>
<circle cx="185.2" cy="894.3" r="1.3" fill="#7c7c7c"/>
<circle cx="183.9" cy="897.1" r="1.3" fill="#7c7c7c"/>
<circle cx="186.5" cy="896" r="1.3" fill="#7c7c7c"/>
<circle cx="185.2" cy="898.6" r="1.3" fill="#7c7c7c"/>
<circle cx="185.2" cy="900.5" r="1.3" fill="#7c7c7c"/>
<circle cx="199.5" cy="890.2" r="1.3" fill="#7c7c7c"/>
<circle cx="196.7" cy="894" r="1.3" fill="#7c7c7c"/>
<circle cx="202.3" cy="894" r="1.3" fill="#7c7c7c"/>
<circle cx="198.3" cy="895.5" r="1.3" fill="#7c7c7c"/>
<circle cx="200.7" cy="895.5" r="1.3" fill="#7c7c7c"/>
<circle cx="199.5" cy="897.1" r="1.3" fill="#7c7c7c"/>
<circle cx="198.3" cy="910.7" r="1.3" fill="#7c7c7c"/>
<circle cx="200.7" cy="910.7" r="1.3" fill="#7c7c7c"/>
<circle cx="222.8" cy="900.5" r="1.3" fill="#8787ff"/>
<circle cx="222.8" cy="902.2" r="1.3" fill="#8787ff"/>
<circle cx="222.8" cy="903.7" r="1.3" fill="#8787ff"/>
<circle cx="221.6" cy="905.8" r="1.3" fill="#8787ff"/>
<circle cx="224" cy="905.8" r="1.3" fill="#8787ff"/>
<circle cx="222.8" cy="907.3" r="1.3" fill="#8787ff"/>
<circle cx="224" cy="909.3" r="1.3" fill="#8787ff"/>
<circle cx="222.8" cy="912.9" r="1.3" fill="#8787ff"/>
<circle cx="236.9" cy="888.2" r="1.3" fill="#8787ff"/>
<circle cx="236.9" cy="893.5" r="1.3" fill="#8787ff"/>
<circle cx="236.9" cy="897.6" r="1.3" fill="#8787ff"/>
<circle cx="235.1" cy="903.2" r="1.3" fill="#8787ff"/>
<circle cx="238.7" cy="903.2" r="1.3" fill="#8787ff"/>
<circle cx="236.9" cy="904.5" r="1.3" fill="#8787ff"/>
<circle cx="236.9" cy="906.3" r="1.3" fill="#8787ff"/>
<circle cx="236.9" cy="908" r="1.3" fill="#8787ff"/>
<path d="M175.1 841.4V982.67" stroke="#141414" stroke-width="1.35" fill="none"/>
<path d="M168.7 982H247.7" stroke="#141414" stroke-width="1.35" fill="none"/>
<text x="167.3" y="985.6" class="tk">0</text>
<path d="M168.7 956.56H175.1" stroke="#141414" stroke-width="1.35"/>
<text x="167.3" y="960.16" class="tk">100</text>
<path d="M168.7 931.12H175.1" stroke="#141414" stroke-width="1.35"/>
<text x="167.3" y="934.72" class="tk">200</text>
<path d="M168.7 905.68H175.1" stroke="#141414" stroke-width="1.35"/>
<text x="167.3" y="909.28" class="tk">300</text>
<path d="M168.7 880.24H175.1" stroke="#141414" stroke-width="1.35"/>
<text x="167.3" y="883.84" class="tk">400</text>
<path d="M168.7 854.8H175.1" stroke="#141414" stroke-width="1.35"/>
<text x="167.3" y="858.4" class="tk">500</text>
<path d="M171.6 969.28H175.1" stroke="#141414" stroke-width="1.35"/>
<path d="M171.6 943.84H175.1" stroke="#141414" stroke-width="1.35"/>
<path d="M171.6 918.4H175.1" stroke="#141414" stroke-width="1.35"/>
<path d="M171.6 892.96H175.1" stroke="#141414" stroke-width="1.35"/>
<path d="M171.6 867.52H175.1" stroke="#141414" stroke-width="1.35"/>
<path d="M171.6 842.08H175.1" stroke="#141414" stroke-width="1.35"/>
<text x="193.4" y="997" class="xl">4h</text>
<text x="231" y="997" class="xl">4h</text>
<path d="M181.9 1004H206.5" stroke="#000" stroke-width="2.1"/>
<text x="192.9" y="1017.3" text-anchor="middle" font-weight="bold" font-size="10.4" fill="#000">C57</text>
<path d="M219.1 1004H243.6" stroke="#000" stroke-width="2.1"/>
<text x="230.5" y="1017.3" text-anchor="middle" font-weight="bold" font-size="10.4" fill="#1212ee">DBA</text>
<text transform="translate(126.8 917.2) rotate(-90)" text-anchor="middle" class="yl">normalized mRNA level</text>
<text transform="translate(141.3 917.2) rotate(-90)" text-anchor="middle" class="yl">[PSL/mm<tspan dy="-4.2" font-size="7.6" fill="#5a4a28">2</tspan><tspan dy="4.2">]</tspan></text>
<rect x="333.65" y="889.35" width="9.1" height="93.25" fill="#fff" stroke="#141414" stroke-width="1.5"/>
<path d="M338.2 889.1V882.6M335.7 882.6H340.7" stroke="#444" stroke-width="0.9" fill="none"/>
<rect x="348.35" y="872.05" width="9.9" height="110.55" fill="#d3d3d3" stroke="#6e6e6e" stroke-width="0.9"/>
<path d="M347.9 872.1H358.7" stroke="#222" stroke-width="1"/>
<path d="M353.3 872.1V864.4M350.8 864.4H355.8" stroke="#444" stroke-width="0.9" fill="none"/>
<rect x="367.1" y="899.35" width="9" height="83.25" fill="#fff" stroke="#141414" stroke-width="1.5"/>
<path d="M371.6 899.1V895.4M369.1 895.4H374.1" stroke="#444" stroke-width="0.9" fill="none"/>
<rect x="381.55" y="876.65" width="9.9" height="105.95" fill="#d3d3d3" stroke="#6e6e6e" stroke-width="0.9"/>
<path d="M381.1 876.7H391.9" stroke="#222" stroke-width="1"/>
<path d="M386.5 876.7V872.4M384 872.4H389" stroke="#444" stroke-width="0.9" fill="none"/>
<rect x="400.65" y="902.15" width="8.9" height="80.45" fill="#fff" stroke="#141414" stroke-width="1.5"/>
<path d="M405.1 901.9V896.1M402.6 896.1H407.6" stroke="#444" stroke-width="0.9" fill="none"/>
<rect x="414.95" y="878.85" width="10.1" height="103.75" fill="#d3d3d3" stroke="#6e6e6e" stroke-width="0.9"/>
<path d="M414.5 878.9H425.5" stroke="#222" stroke-width="1"/>
<path d="M420 878.9V875M417.5 875H422.5" stroke="#444" stroke-width="0.9" fill="none"/>
<rect x="441.8" y="905.25" width="9.2" height="77.35" fill="#fff" stroke="#1212ee" stroke-width="1.5"/>
<path d="M446.4 905V900.7M443.9 900.7H448.9" stroke="#1212ee" stroke-width="0.9" fill="none"/>
<rect x="456.1" y="894.8" width="10.8" height="87.8" fill="#606060"/>
<path d="M461.5 895.3V893M459 893H464" stroke="#1a1a1a" stroke-width="0.9" fill="none"/>
<rect x="475.6" y="909.05" width="9" height="73.55" fill="#fff" stroke="#1212ee" stroke-width="1.5"/>
<path d="M480.1 908.8V905M477.6 905H482.6" stroke="#1212ee" stroke-width="0.9" fill="none"/>
<rect x="489.45" y="903.2" width="10.7" height="79.4" fill="#606060"/>
<path d="M494.8 903.7V897.4M492.3 897.4H497.3" stroke="#1a1a1a" stroke-width="0.9" fill="none"/>
<rect x="509.1" y="905.25" width="9" height="77.35" fill="#fff" stroke="#1212ee" stroke-width="1.5"/>
<path d="M513.6 905V899.5M511.1 899.5H516.1" stroke="#1212ee" stroke-width="0.9" fill="none"/>
<rect x="522.9" y="903.2" width="11" height="79.4" fill="#606060"/>
<path d="M528.4 903.7V898.4M525.9 898.4H530.9" stroke="#1a1a1a" stroke-width="0.9" fill="none"/>
<circle cx="338.2" cy="862.1" r="1.3" fill="#7c7c7c"/>
<circle cx="338.2" cy="878.9" r="1.3" fill="#7c7c7c"/>
<circle cx="337.2" cy="890" r="1.3" fill="#7c7c7c"/>
<circle cx="339.5" cy="889.1" r="1.3" fill="#7c7c7c"/>
<circle cx="336.9" cy="904.3" r="1.3" fill="#7c7c7c"/>
<circle cx="339.7" cy="903.2" r="1.3" fill="#7c7c7c"/>
<circle cx="353.3" cy="846.5" r="1.3" fill="#7c7c7c"/>
<circle cx="353.3" cy="854.9" r="1.3" fill="#7c7c7c"/>
<circle cx="353.3" cy="863.6" r="1.3" fill="#7c7c7c"/>
<circle cx="353.3" cy="872.4" r="1.3" fill="#7c7c7c"/>
<circle cx="353.3" cy="878.7" r="1.3" fill="#7c7c7c"/>
<circle cx="353.3" cy="887.9" r="1.3" fill="#7c7c7c"/>
<circle cx="353.3" cy="894.9" r="1.3" fill="#7c7c7c"/>
<circle cx="371.6" cy="886.4" r="1.3" fill="#7c7c7c"/>
<circle cx="371.6" cy="889.8" r="1.3" fill="#7c7c7c"/>
<circle cx="370.4" cy="900.2" r="1.3" fill="#7c7c7c"/>
<circle cx="372.8" cy="900.2" r="1.3" fill="#7c7c7c"/>
<circle cx="370.4" cy="902.7" r="1.3" fill="#7c7c7c"/>
<circle cx="373.1" cy="903.5" r="1.3" fill="#7c7c7c"/>
<circle cx="371.6" cy="906.6" r="1.3" fill="#7c7c7c"/>
<circle cx="386.5" cy="862.4" r="1.3" fill="#7c7c7c"/>
<circle cx="386.5" cy="866.5" r="1.3" fill="#7c7c7c"/>
<circle cx="386.5" cy="871.8" r="1.3" fill="#7c7c7c"/>
<circle cx="386.5" cy="877.5" r="1.3" fill="#7c7c7c"/>
<circle cx="386.5" cy="879.2" r="1.3" fill="#7c7c7c"/>
<circle cx="385.2" cy="887.2" r="1.3" fill="#7c7c7c"/>
<circle cx="388" cy="886.2" r="1.3" fill="#7c7c7c"/>
<circle cx="405.1" cy="888.7" r="1.3" fill="#7c7c7c"/>
<circle cx="405.1" cy="890.5" r="1.3" fill="#7c7c7c"/>
<circle cx="405.1" cy="892.5" r="1.3" fill="#7c7c7c"/>
<circle cx="405.1" cy="900.7" r="1.3" fill="#7c7c7c"/>
<circle cx="405.1" cy="909.7" r="1.3" fill="#7c7c7c"/>
<circle cx="405.1" cy="924.9" r="1.3" fill="#7c7c7c"/>
<circle cx="420" cy="864.4" r="1.3" fill="#7c7c7c"/>
<circle cx="418.7" cy="873.1" r="1.3" fill="#7c7c7c"/>
<circle cx="421.3" cy="874.6" r="1.3" fill="#7c7c7c"/>
<circle cx="420" cy="887.4" r="1.3" fill="#7c7c7c"/>
<circle cx="420" cy="889.5" r="1.3" fill="#7c7c7c"/>
<circle cx="446.4" cy="886.6" r="1.3" fill="#8787ff"/>
<circle cx="445.4" cy="906.1" r="1.3" fill="#8787ff"/>
<circle cx="447.4" cy="906.1" r="1.3" fill="#8787ff"/>
<circle cx="446.4" cy="907.5" r="1.3" fill="#8787ff"/>
<circle cx="446.4" cy="909.9" r="1.3" fill="#8787ff"/>
<circle cx="446.4" cy="911.9" r="1.3" fill="#8787ff"/>
<circle cx="461.5" cy="889.7" r="1.3" fill="#8787ff"/>
<circle cx="459" cy="894" r="1.3" fill="#8787ff"/>
<circle cx="461.5" cy="894" r="1.3" fill="#8787ff"/>
<circle cx="464" cy="894" r="1.3" fill="#8787ff"/>
<circle cx="460.2" cy="898.3" r="1.3" fill="#8787ff"/>
<circle cx="463" cy="897.4" r="1.3" fill="#8787ff"/>
<circle cx="480.1" cy="896.6" r="1.3" fill="#8787ff"/>
<circle cx="480.1" cy="900.1" r="1.3" fill="#8787ff"/>
<circle cx="480.1" cy="905.3" r="1.3" fill="#8787ff"/>
<circle cx="480.1" cy="908.8" r="1.3" fill="#8787ff"/>
<circle cx="480.1" cy="913.4" r="1.3" fill="#8787ff"/>
<circle cx="478.6" cy="916.2" r="1.3" fill="#8787ff"/>
<circle cx="481.6" cy="915.5" r="1.3" fill="#8787ff"/>
<circle cx="494.8" cy="887.9" r="1.3" fill="#8787ff"/>
<circle cx="494.8" cy="892" r="1.3" fill="#8787ff"/>
<circle cx="494.8" cy="894.8" r="1.3" fill="#8787ff"/>
<circle cx="494.8" cy="909.3" r="1.3" fill="#8787ff"/>
<circle cx="494.8" cy="912.1" r="1.3" fill="#8787ff"/>
<circle cx="494.8" cy="921.9" r="1.3" fill="#8787ff"/>
<circle cx="513.6" cy="885.5" r="1.3" fill="#8787ff"/>
<circle cx="512.3" cy="899.3" r="1.3" fill="#8787ff"/>
<circle cx="514.9" cy="899.3" r="1.3" fill="#8787ff"/>
<circle cx="513.6" cy="902.7" r="1.3" fill="#8787ff"/>
<circle cx="513.6" cy="912.1" r="1.3" fill="#8787ff"/>
<circle cx="513.6" cy="913.9" r="1.3" fill="#8787ff"/>
<circle cx="513.6" cy="916" r="1.3" fill="#8787ff"/>
<circle cx="528.4" cy="880.4" r="1.3" fill="#8787ff"/>
<circle cx="528.4" cy="897.1" r="1.3" fill="#8787ff"/>
<circle cx="528.4" cy="900.5" r="1.3" fill="#8787ff"/>
<circle cx="527.1" cy="906.3" r="1.3" fill="#8787ff"/>
<circle cx="529.9" cy="905.8" r="1.3" fill="#8787ff"/>
<circle cx="528.4" cy="913.2" r="1.3" fill="#8787ff"/>
<circle cx="528.4" cy="918.7" r="1.3" fill="#8787ff"/>
<path d="M327.5 840.91V983.27" stroke="#141414" stroke-width="1.35" fill="none"/>
<path d="M321.1 982.6H540.9" stroke="#141414" stroke-width="1.35" fill="none"/>
<text x="319.7" y="986.2" class="tk">0</text>
<path d="M321.1 956.96H327.5" stroke="#141414" stroke-width="1.35"/>
<text x="319.7" y="960.56" class="tk">100</text>
<path d="M321.1 931.32H327.5" stroke="#141414" stroke-width="1.35"/>
<text x="319.7" y="934.92" class="tk">200</text>
<path d="M321.1 905.68H327.5" stroke="#141414" stroke-width="1.35"/>
<text x="319.7" y="909.28" class="tk">300</text>
<path d="M321.1 880.04H327.5" stroke="#141414" stroke-width="1.35"/>
<text x="319.7" y="883.64" class="tk">400</text>
<path d="M321.1 854.4H327.5" stroke="#141414" stroke-width="1.35"/>
<text x="319.7" y="858" class="tk">500</text>
<path d="M324 969.78H327.5" stroke="#141414" stroke-width="1.35"/>
<path d="M324 944.14H327.5" stroke="#141414" stroke-width="1.35"/>
<path d="M324 918.5H327.5" stroke="#141414" stroke-width="1.35"/>
<path d="M324 892.86H327.5" stroke="#141414" stroke-width="1.35"/>
<path d="M324 867.22H327.5" stroke="#141414" stroke-width="1.35"/>
<path d="M324 841.58H327.5" stroke="#141414" stroke-width="1.35"/>
<text x="345" y="996.2" class="xl">4h</text>
<text x="377.6" y="996.2" class="xl">24h</text>
<text x="412.4" y="996.2" class="xl">48h</text>
<text x="453.4" y="996.2" class="xl">4h</text>
<text x="486.2" y="996.2" class="xl">24h</text>
<text x="519.8" y="996.2" class="xl">48h</text>
<path d="M332.4 1003H426" stroke="#000" stroke-width="2.1"/>
<text x="378.6" y="1017" text-anchor="middle" font-weight="bold" font-size="11.4" fill="#000">C57</text>
<path d="M443.4 1003H537.6" stroke="#000" stroke-width="2.1"/>
<text x="487.8" y="1017" text-anchor="middle" font-weight="bold" font-size="11.4" fill="#1212ee">DBA</text>
<text x="0.6" y="21.3" font-size="28.9" font-weight="bold" font-style="italic" fill="#000">Penk</text>
<text x="211" y="25" class="h">acute</text>
<text x="211" y="46" class="h">morphine</text>
<text x="435.8" y="24.8" class="h">chronic morphine</text>
<text x="436.2" y="46.4" class="h">and withdrawal</text>
<rect x="569.2" y="53.6" width="26.2" height="12.7" fill="#fff" stroke="#000" stroke-width="1.7"/>
<rect x="569.4" y="78.6" width="26.1" height="12.7" fill="#d3d3d3" stroke="#383838" stroke-width="0.8"/>
<rect x="569.2" y="105.4" width="26.2" height="12.7" fill="#fff" stroke="#1212ee" stroke-width="1.7"/>
<rect x="569" y="130.9" width="26.6" height="12.6" fill="#606060"/>
<text x="601.2" y="64.6" class="lg">C57 control</text>
<text x="601.2" y="89.9" class="lg">C57 morphine</text>
<text x="601.2" y="115.7" class="lg">DBA control</text>
<text x="601.2" y="141.6" class="lg">DBA morphine</text>
<rect x="2.4" y="76.4" width="28.3" height="33" fill="#fff" stroke="#444" stroke-width="1" rx="0.3"/>
<text x="5.7" y="100.3" class="pl">A</text>
<rect x="2.4" y="313.4" width="23.1" height="32.8" fill="#fff" stroke="#444" stroke-width="1" rx="0.3"/>
<text x="6.2" y="336.9" class="pl">B</text>
<rect x="2.4" y="558.6" width="23.1" height="32.8" fill="#fff" stroke="#444" stroke-width="1" rx="0.3"/>
<text x="5.5" y="582.3" class="pl">C</text>
<rect x="2.4" y="823.8" width="23.1" height="32.8" fill="#fff" stroke="#444" stroke-width="1" rx="0.3"/>
<text x="6.2" y="847.3" class="pl">D</text>
<text x="46.8" y="176.6" class="r">dStr</text>
<text x="2.7" y="406.1" class="r">NAc core</text>
<text x="1.7" y="652.1" class="r">NAc shell</text>
<text x="47" y="917" class="r">CeA</text>
<text x="182.6" y="109" class="t">strain: p=0.006</text>
<path d="M184 115.6H242.4" stroke="#222" stroke-width="1.1"/>
<text x="387" y="83.3" class="tb">treatment: p=0.002</text>
<path d="M338.6 89.2H535.6" stroke="#4444dc" stroke-width="1.3"/>
<text x="331.6" y="106" class="t">(treatment: p=0.051)</text>
<path d="M338.6 112H421.4" stroke="#5a5a5a" stroke-width="1.25"/>
<text x="444.4" y="106.4" class="t">treatment: p=0.016</text>
<path d="M444 111.7H531.4" stroke="#111" stroke-width="1.0"/>
<text x="185" y="319" class="t">treatment: p=0.009</text>
<text x="185" y="333.4" class="t">strain: p=3.1x10<tspan dx="0.7" dy="-4.7" font-size="7.5" fill="#453a2a">-6</tspan></text>
<path d="M184.4 338.4H243.4" stroke="#222" stroke-width="1.0"/>
<text x="351.6" y="306.6" class="tb">treatment: p=0.004; strain: p=4x10<tspan dx="0.7" dy="-4.7" font-size="7.5" fill="#1a1ac8">-14</tspan></text>
<path d="M338.6 312.5H535.6" stroke="#4444dc" stroke-width="1.3"/>
<text x="336.6" y="328.6" class="t">treatment: p=0.007</text>
<path d="M337 335.2H423" stroke="#444" stroke-width="1.4"/>
<text x="186.6" y="585.6" class="t">strain: p=3.1x10<tspan dx="0.7" dy="-4.7" font-size="7.5" fill="#453a2a">-4</tspan></text>
<path d="M187 591.2H240.6" stroke="#5c5c5c" stroke-width="1.35"/>
<text x="344.4" y="549" class="tb">treatment: p=0.038; strain: p=5.2x10<tspan dx="0.7" dy="-4.7" font-size="7.5" fill="#1a1ac8">-7</tspan></text>
<path d="M334 554.5H531.3" stroke="#4444dc" stroke-width="1.3"/>
<text x="335.6" y="572.3" class="t">treatment: p=0.042</text>
<path d="M335.6 577.4H421.4" stroke="#222" stroke-width="1.1"/>
<text x="182.9" y="857.8" class="t">strain: p=0.015</text>
<text x="182.9" y="870" class="t">treatm x strain: p=0.027</text>
<path d="M182.9 873.5H241.5" stroke="#2a2a2a" stroke-width="1.2"/>
<text x="340.6" y="793" class="tb">treatment: p=2.1x10<tspan dx="0.7" dy="-4.7" font-size="7.5" fill="#1a1ac8">-6</tspan><tspan dy="4.7">; strain: p=1.3x10</tspan><tspan dx="0.7" dy="-4.7" font-size="7.5" fill="#1a1ac8">-9</tspan></text>
<text x="340.6" y="805" class="tb">treatment x strain: p=0.003</text>
<path d="M336.4 811.3H533.9" stroke="#4444dc" stroke-width="1.3"/>
<text x="333.4" y="828.2" class="t">treatment: p=5.2x10<tspan dx="0.7" dy="-4.7" font-size="7.5" fill="#453a2a">-6</tspan></text>
<path d="M337 834.1H423" stroke="#5c5c5c" stroke-width="1.35"/>
</svg>
</body></html>
